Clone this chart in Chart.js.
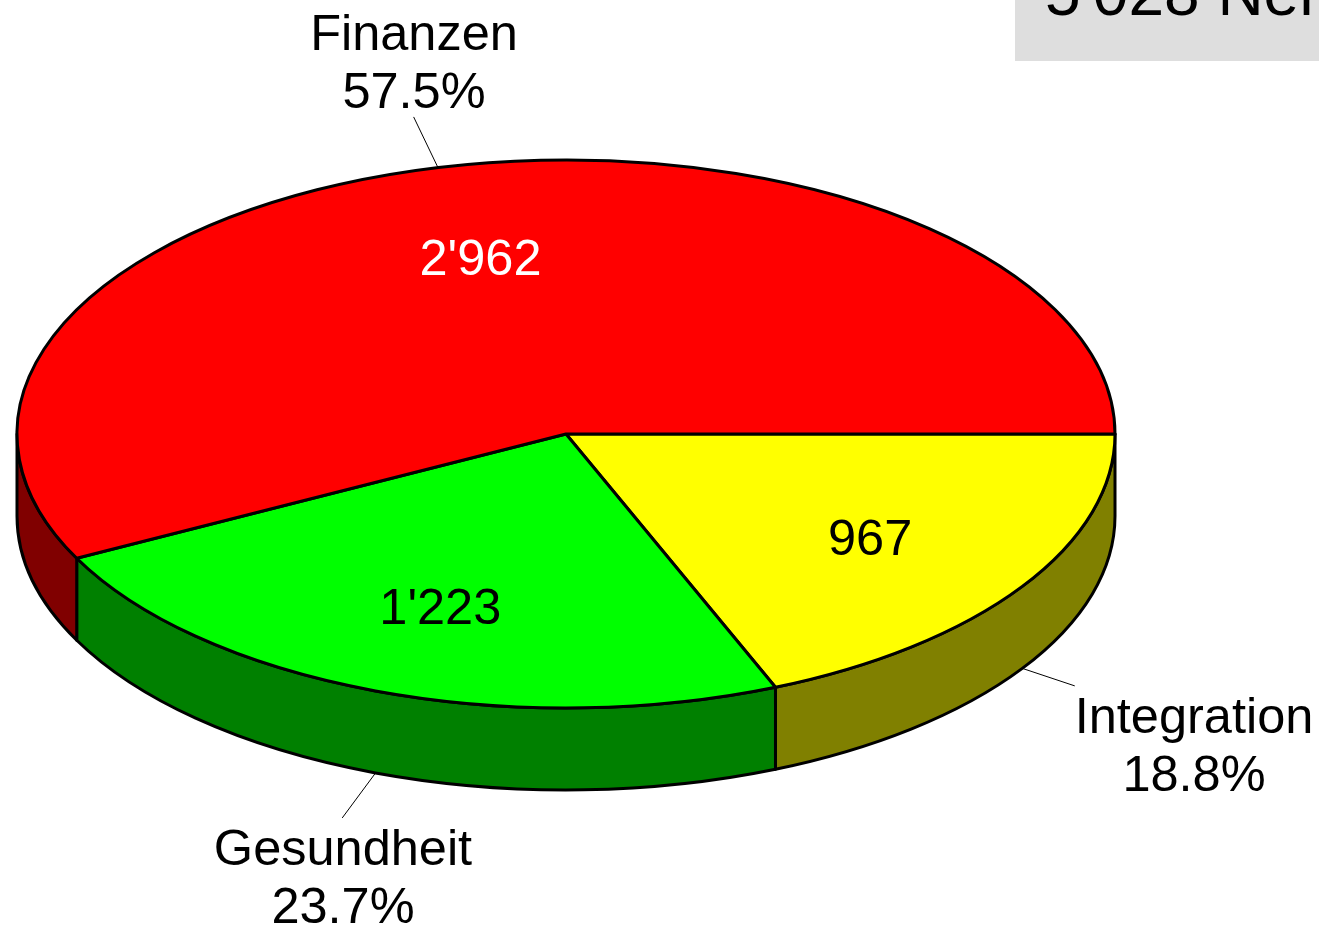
<!DOCTYPE html>
<html>
<head>
<meta charset="utf-8">
<title>Pie</title>
<script src="https://cdn.jsdelivr.net/npm/chart.js@4"></script>
<style>
    html, body { margin: 0; padding: 0; background: #fff; overflow: hidden; }
    canvas { display: block; }
</style>
</head>
<body>
<canvas id="pieChart" width="1319" height="928"></canvas>
<script>
// clockwise from 3 o'clock
const categories = ["Integration", "Gesundheit", "Finanzen"];
const values = [967, 1223, 2962];
const valueLabels = ["967", "1'223", "2'962"];
const percentLabels = ["18.8%", "23.7%", "57.5%"];
const topColors = ["#ffff00", "#00ff00", "#ff0000"];
const sideColors = ["#808000", "#008000", "#800000"];
const valueTextColors = ["#000000", "#000000", "#ffffff"];
const totalLabel = "5'028 Nennungen";

const squash = 274 / 549;
const depth = 82;
const fontName = '50.5px "Liberation Sans", Arial, sans-serif';
const totalFontName = '64px "Liberation Sans", Arial, sans-serif';

// leader end as a factor of the rim radius, then where the two text lines go
const leaderFactors = [1.115, 1.175, 1.19];
const labelCenterX = [1194, 343, 414];
const labelBaseY = [733, 865, 50];
const lineHeight = 58;

// small corrections for the text inside the slices
const valueNudgeX = [3, 0, -1];
const valueNudgeY = [2, 2, -1];

// Pie slices are drawn flat on an ellipse instead of a circle
Chart.ArcElement.prototype.draw = function (ctx) {
    const { x, y, startAngle, endAngle, outerRadius } = this;
    ctx.save();
    ctx.beginPath();
    ctx.moveTo(x, y);
    ctx.ellipse(x, y, outerRadius, outerRadius * squash, 0, startAngle, endAngle);
    ctx.closePath();
    ctx.fillStyle = this.options.backgroundColor;
    ctx.fill();
    ctx.lineJoin = "round";
    ctx.lineWidth = this.options.borderWidth;
    ctx.strokeStyle = this.options.borderColor;
    ctx.stroke();
    ctx.restore();
};

const sideWalls = {
    id: "sideWalls",
    beforeDatasetsDraw(chart) {
        const ctx = chart.ctx;
        chart.getDatasetMeta(0).data.forEach((arc, i) => {
            const a0 = arc.startAngle;
            const a1 = Math.min(arc.endAngle, Math.PI);
            if (a0 >= a1) return;
            const rx = arc.outerRadius;
            const ry = rx * squash;
            ctx.save();
            ctx.beginPath();
            ctx.ellipse(arc.x, arc.y, rx, ry, 0, a0, a1);
            ctx.ellipse(arc.x, arc.y + depth, rx, ry, 0, a1, a0, true);
            ctx.closePath();
            ctx.fillStyle = sideColors[i];
            ctx.fill();
            ctx.lineJoin = "round";
            ctx.lineWidth = arc.options.borderWidth;
            ctx.strokeStyle = "#000000";
            ctx.stroke();
            ctx.restore();
        });
    }
};

const pieLabels = {
    id: "pieLabels",
    afterDatasetsDraw(chart) {
        const ctx = chart.ctx;
        ctx.save();
        ctx.font = fontName;
        ctx.textAlign = "center";
        ctx.textBaseline = "alphabetic";

        chart.getDatasetMeta(0).data.forEach((arc, i) => {
            const mid = (arc.startAngle + arc.endAngle) / 2;
            const rx = arc.outerRadius;
            const ry = rx * squash;
            const cos = Math.cos(mid);
            const sin = Math.sin(mid);

            // Value inside the slice
            ctx.fillStyle = valueTextColors[i];
            ctx.fillText(valueLabels[i], arc.x + rx * 0.66 * cos + valueNudgeX[i], arc.y + ry * 0.66 * sin + 18 + valueNudgeY[i]);

            // Leader line starts at the visible rim, on the wall if it is the front half
            const drop = sin > 0 ? depth : 0;
            const f = leaderFactors[i];
            ctx.beginPath();
            ctx.moveTo(arc.x + rx * cos, arc.y + ry * sin + drop);
            ctx.lineTo(arc.x + rx * f * cos, arc.y + ry * f * sin + drop);
            ctx.lineWidth = 1;
            ctx.strokeStyle = "#000000";
            ctx.stroke();

            ctx.fillStyle = "#000000";
            ctx.fillText(categories[i], labelCenterX[i], labelBaseY[i]);
            ctx.fillText(percentLabels[i], labelCenterX[i], labelBaseY[i] + lineHeight);
        });

        // Total box, cut off by the top right corner of the page
        ctx.fillStyle = "#dedede";
        ctx.fillRect(1015, 0, 304, 61);
        ctx.fillStyle = "#000000";
        ctx.textAlign = "left";
        ctx.font = totalFontName;
        ctx.fillText(totalLabel, 1045, 15);
        ctx.restore();
    }
};

const ctx = document.getElementById("pieChart").getContext("2d");
const pieChart = new Chart(ctx, {
    type: "pie",
    data: {
        labels: categories,
        datasets: [{
            data: values,
            backgroundColor: topColors,
            borderColor: "#000000",
            borderWidth: 3
        }]
    },
    options: {
        responsive: false,
        animation: false,
        rotation: 90,
        radius: 549,
        layout: { padding: { left: 0, top: 0, right: 187, bottom: 60 } },
        plugins: {
            legend: { display: false },
            tooltip: { enabled: false }
        }
    },
    plugins: [sideWalls, pieLabels]
});
</script>
</body>
</html>
